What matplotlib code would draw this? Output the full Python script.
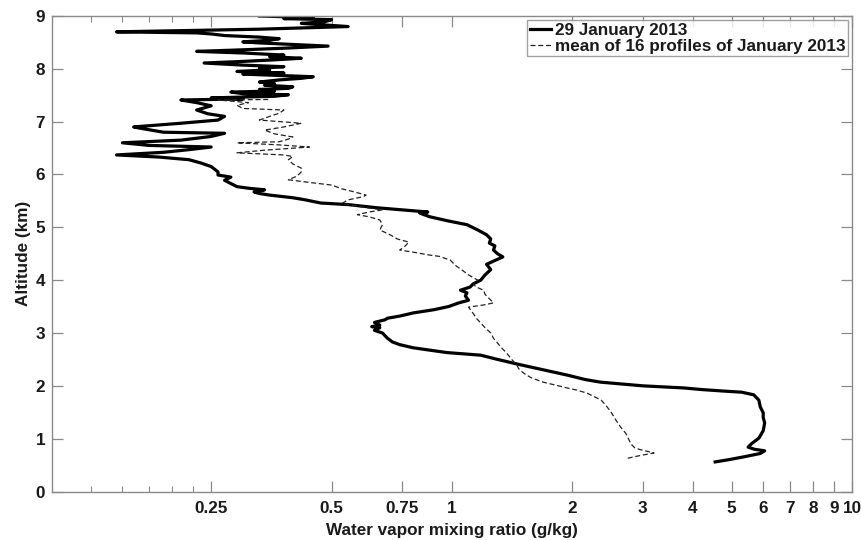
import matplotlib
matplotlib.use("Agg")
import matplotlib.pyplot as plt
from matplotlib.ticker import FixedLocator, FixedFormatter, NullFormatter

# ---- data (altitude in km, water vapour mixing ratio in g/kg) ----
alt_jan29 = [0.56, 0.60, 0.66, 0.72, 0.77, 0.80, 0.84, 0.90, 1.01, 1.15, 1.30, 1.40, 1.49, 1.60,
             1.73, 1.83, 1.88, 1.90, 1.93, 1.96, 2.00, 2.04, 2.07, 2.12, 2.20, 2.30, 2.41, 2.50,
             2.58, 2.63, 2.68, 2.72, 2.78, 2.83, 2.90, 3.00, 3.05, 3.10, 3.12, 3.15, 3.20, 3.25,
             3.28, 3.32, 3.38, 3.44, 3.50, 3.57, 3.62, 3.70, 3.76, 3.81, 3.87, 3.93, 4.00, 4.10,
             4.20, 4.30, 4.44, 4.50, 4.57, 4.65, 4.70, 4.78, 4.86, 4.95, 5.05, 5.12, 5.20, 5.27,
             5.29, 5.33, 5.37, 5.43, 5.46, 5.52, 5.56, 5.61, 5.64, 5.67, 5.71, 5.74, 5.77, 5.83,
             5.89, 5.95, 5.99, 6.05, 6.15, 6.22, 6.28, 6.33, 6.37, 6.40, 6.42, 6.47, 6.52, 6.55,
             6.60, 6.65, 6.72, 6.78, 6.80, 6.88, 6.90, 6.97, 7.03, 7.10, 7.15, 7.22, 7.30, 7.36,
             7.41, 7.43, 7.45, 7.48, 7.51, 7.53, 7.56, 7.58, 7.61, 7.63, 7.66, 7.69, 7.72, 7.75,
             7.79, 7.82, 7.85, 7.88, 7.90, 7.92, 7.95, 7.98, 8.01, 8.04, 8.07, 8.11, 8.14, 8.17,
             8.20, 8.23, 8.26, 8.30, 8.33, 8.36, 8.39, 8.43, 8.46, 8.49, 8.51, 8.54, 8.57, 8.60,
             8.63, 8.66, 8.68, 8.70, 8.72, 8.75, 8.78, 8.80, 8.83, 8.86, 8.89, 8.93, 8.95, 8.97,
             9.00]
wv_jan29 = [4.55, 4.9, 5.4, 5.9, 6.05, 5.7, 5.5, 5.6, 5.85, 6.0, 6.05, 6.0, 6.0, 5.9,
            5.85, 5.68, 5.3, 4.8, 4.2, 3.8, 3.0, 2.6, 2.35, 2.15, 1.95, 1.7, 1.46, 1.3,
            1.18, 0.97, 0.87, 0.80, 0.74, 0.71, 0.69, 0.67, 0.64, 0.66, 0.63, 0.66, 0.64, 0.68,
            0.69, 0.74, 0.80, 0.90, 0.98, 1.04, 1.10, 1.08, 1.09, 1.05, 1.11, 1.13, 1.18, 1.21,
            1.25, 1.22, 1.34, 1.30, 1.27, 1.28, 1.24, 1.25, 1.22, 1.16, 1.09, 0.98, 0.88, 0.83,
            0.87, 0.75, 0.65, 0.55, 0.47, 0.43, 0.40, 0.35, 0.33, 0.32, 0.34, 0.31, 0.29, 0.28,
            0.27, 0.28, 0.26, 0.26, 0.25, 0.235, 0.22, 0.185, 0.145, 0.17, 0.19, 0.22, 0.25, 0.175,
            0.15, 0.21, 0.25, 0.27, 0.19, 0.165, 0.16, 0.21, 0.26, 0.27, 0.245, 0.23, 0.25, 0.23,
            0.21, 0.30, 0.25, 0.36, 0.39, 0.30, 0.28, 0.36, 0.33, 0.39, 0.40, 0.34, 0.36, 0.33,
            0.37, 0.42, 0.45, 0.35, 0.30, 0.38, 0.29, 0.35, 0.33, 0.38, 0.30, 0.24, 0.30, 0.36,
            0.42, 0.35, 0.38, 0.30, 0.23, 0.30, 0.38, 0.49, 0.40, 0.33, 0.30, 0.35, 0.37, 0.33,
            0.27, 0.25, 0.23, 0.145, 0.20, 0.33, 0.45, 0.55, 0.48, 0.42, 0.48, 0.50, 0.38, 0.45,
            0.33]

alt_mean = [0.63, 0.68, 0.73, 0.78, 0.82, 0.90, 0.98, 1.10, 1.22, 1.35, 1.50, 1.64, 1.73, 1.80,
            1.86, 1.92, 1.96, 2.02, 2.07, 2.15, 2.24, 2.32, 2.40, 2.50, 2.62, 2.72, 2.81, 2.90,
            3.00, 3.10, 3.19, 3.28, 3.37, 3.45, 3.49, 3.53, 3.57, 3.65, 3.73, 3.81, 3.87, 3.93,
            4.00, 4.10, 4.19, 4.28, 4.38, 4.45, 4.48, 4.53, 4.57, 4.63, 4.72, 4.78, 4.86, 4.95,
            5.05, 5.14, 5.20, 5.24, 5.29, 5.33, 5.38, 5.45, 5.52, 5.58, 5.61, 5.67, 5.73, 5.80,
            5.85, 5.90, 5.97, 6.05, 6.12, 6.20, 6.28, 6.34, 6.37, 6.41, 6.46, 6.52, 6.56, 6.60,
            6.62, 6.67, 6.71, 6.77, 6.84, 6.90, 6.97, 7.03, 7.10, 7.16, 7.22, 7.25, 7.31, 7.36,
            7.41, 7.42]
wv_mean = [2.75, 2.95, 3.2, 3.0, 2.87, 2.80, 2.77, 2.72, 2.64, 2.57, 2.50, 2.42, 2.36, 2.26,
           2.18, 2.05, 1.94, 1.80, 1.69, 1.58, 1.51, 1.47, 1.45, 1.41, 1.37, 1.33, 1.30, 1.27,
           1.25, 1.21, 1.18, 1.15, 1.13, 1.11, 1.10, 1.20, 1.27, 1.24, 1.21, 1.20, 1.15, 1.13,
           1.16, 1.10, 1.06, 1.02, 0.99, 0.93, 0.87, 0.80, 0.74, 0.76, 0.78, 0.73, 0.70, 0.66,
           0.67, 0.66, 0.62, 0.58, 0.62, 0.67, 0.60, 0.53, 0.55, 0.60, 0.61, 0.57, 0.53, 0.50,
           0.44, 0.39, 0.41, 0.42, 0.42, 0.40, 0.39, 0.40, 0.38, 0.29, 0.34, 0.44, 0.37, 0.29,
           0.37, 0.39, 0.40, 0.36, 0.34, 0.38, 0.42, 0.33, 0.35, 0.37, 0.38, 0.30, 0.29, 0.31,
           0.26, 0.35]

label_jan29 = "29 January 2013"
label_mean = "mean of 16 profiles of January 2013"

xtick_vals = [0.25, 0.5, 0.75, 1, 2, 3, 4, 5, 6, 7, 8, 9, 10]
xtick_labels = ["0.25", "0.5", "0.75", "1", "2", "3", "4", "5", "6", "7", "8", "9", "10"]
xminor_vals = [0.125, 0.15, 0.175, 0.2, 0.225]
ytick_vals = [0, 1, 2, 3, 4, 5, 6, 7, 8, 9]

# ---- style ----
plt.rcParams['font.family'] = ['Liberation Sans', 'DejaVu Sans']
plt.rcParams['font.weight'] = 'bold'
FS = 12.3
spine_col = '#8a8a8a'
text_col = '#1a1a1a'

fig = plt.figure(figsize=(8.61, 5.40), dpi=100)
ax = fig.add_axes([0.0604, 0.0898, 0.9291, 0.8806])

ax.plot(wv_jan29, alt_jan29, color='black', lw=2.3, solid_joinstyle='round',
        label=label_jan29)
ax.plot(wv_mean, alt_mean, color='#222222', lw=0.9, dashes=(4, 2.2),
        label=label_mean)

ax.set_xscale('log')
ax.set_xlim(0.1, 10)
ax.set_ylim(0, 9)
ax.xaxis.set_major_locator(FixedLocator(xtick_vals))
ax.xaxis.set_major_formatter(FixedFormatter(xtick_labels))
ax.xaxis.set_minor_locator(FixedLocator(xminor_vals))
ax.xaxis.set_minor_formatter(NullFormatter())
ax.set_yticks(ytick_vals)
ax.set_yticklabels([str(v) for v in ytick_vals])

ax.tick_params(which='major', direction='in', length=8, width=0.9, color=spine_col,
               top=True, right=True, labelsize=FS, labelcolor=text_col)
ax.tick_params(axis='x', which='major', pad=7)
ax.tick_params(axis='y', which='major', pad=5)
ax.tick_params(which='minor', direction='in', length=4, width=0.8, color=spine_col,
               top=True, bottom=True)
for lab in ax.get_xticklabels() + ax.get_yticklabels():
    lab.set_fontweight('bold')

for s in ax.spines.values():
    s.set_color(spine_col)
    s.set_linewidth(1.0)

ax.set_xlabel('Water vapor mixing ratio (g/kg)', fontsize=FS, fontweight='bold',
              color=text_col, labelpad=5)
ax.set_ylabel('Altitude (km)', fontsize=FS, fontweight='bold', color=text_col, labelpad=3)

leg = ax.legend(loc='upper right', fontsize=FS, frameon=True, fancybox=False,
                borderaxespad=0.25, borderpad=0.15, labelspacing=0.05,
                handlelength=1.25, handletextpad=0.2)
leg.get_frame().set_edgecolor(spine_col)
leg.get_frame().set_linewidth(1.0)
for t in leg.get_texts():
    t.set_fontweight('bold')
    t.set_color(text_col)

fig.savefig('out.png', dpi=100, facecolor='white')
